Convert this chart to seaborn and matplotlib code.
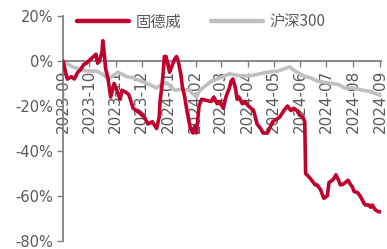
import matplotlib
matplotlib.use("Agg")
import matplotlib.pyplot as plt
import matplotlib.dates as mdates
import seaborn as sns
import pandas as pd
from matplotlib.lines import Line2D

red_name = "固德威"
gray_name = "沪深300"

red_dates = [
    "2023-09-01", "2023-09-04", "2023-09-06", "2023-09-11", "2023-09-14", "2023-09-18",
    "2023-09-21", "2023-09-25", "2023-09-28", "2023-10-09", "2023-10-11", "2023-10-13",
    "2023-10-16", "2023-10-17", "2023-10-19", "2023-10-20", "2023-10-23", "2023-10-26",
    "2023-10-30", "2023-11-02", "2023-11-06", "2023-11-08", "2023-11-13", "2023-11-16",
    "2023-11-21", "2023-11-28", "2023-12-04", "2023-12-08", "2023-12-13", "2023-12-18",
    "2023-12-21", "2023-12-22", "2023-12-25", "2023-12-27", "2023-12-29", "2024-01-02",
    "2024-01-04", "2024-01-08", "2024-01-10", "2024-01-12", "2024-01-15", "2024-01-17",
    "2024-01-19", "2024-01-22", "2024-01-24", "2024-01-26", "2024-01-29", "2024-01-31",
    "2024-02-02", "2024-02-05", "2024-02-08", "2024-02-19", "2024-02-22", "2024-02-26",
    "2024-02-29", "2024-03-04", "2024-03-07", "2024-03-11", "2024-03-13", "2024-03-15",
    "2024-03-18", "2024-03-20", "2024-03-22", "2024-03-26", "2024-03-29", "2024-04-02",
    "2024-04-08", "2024-04-10", "2024-04-12", "2024-04-16", "2024-04-19", "2024-04-24",
    "2024-04-30", "2024-05-08", "2024-05-13", "2024-05-17", "2024-05-21", "2024-05-24",
    "2024-05-28", "2024-05-31", "2024-06-04", "2024-06-06", "2024-06-07", "2024-06-12",
    "2024-06-14", "2024-06-18", "2024-06-20", "2024-06-24", "2024-06-26", "2024-06-28",
    "2024-07-02", "2024-07-04", "2024-07-08", "2024-07-10", "2024-07-12", "2024-07-15",
    "2024-07-17", "2024-07-19", "2024-07-23", "2024-07-26", "2024-07-29", "2024-07-31",
    "2024-08-02", "2024-08-06", "2024-08-09", "2024-08-13", "2024-08-15", "2024-08-19",
    "2024-08-21", "2024-08-23", "2024-08-26", "2024-08-30", "2024-09-02",
]
red_values = [
    0, -5, -8, -7, -8, -5,
    -4, -1.5, -1, 3, -1, 0,
    4, 9, 2, -3, -8, -16,
    -10, -13, -17, -13, -14, -15,
    -21, -23, -25, -28, -27, -30,
    -25, -18, -8, 2, 2, -5,
    -3, 1, 2, 0, -6, -12,
    -15, -22, -26, -30, -32, -29,
    -32, -20, -17, -18, -16, -19,
    -18, -21, -16, -12, -9, -8,
    -12, -17, -16, -19, -18, -20,
    -22, -25, -28, -30, -32, -32,
    -27, -25, -22, -20, -22, -21,
    -22, -24, -25, -27, -50, -52,
    -53, -55, -55, -57, -59, -61,
    -60, -54, -53, -52, -50.6, -53,
    -55, -55, -54, -53, -55, -56,
    -58, -58.5, -60, -63, -64, -64,
    -65, -64, -66, -67, -67,
]

gray_dates = [
    "2023-09-01", "2023-09-07", "2023-09-12", "2023-09-20", "2023-09-28", "2023-10-10",
    "2023-10-17", "2023-10-23", "2023-10-27", "2023-11-03", "2023-11-09", "2023-11-14",
    "2023-11-21", "2023-12-01", "2023-12-10", "2023-12-18", "2023-12-25", "2023-12-29",
    "2024-01-08", "2024-01-17", "2024-01-25", "2024-01-30", "2024-02-02", "2024-02-06",
    "2024-02-19", "2024-02-26", "2024-03-11", "2024-03-22", "2024-04-03", "2024-04-12",
    "2024-04-23", "2024-05-06", "2024-05-13", "2024-05-20", "2024-05-24", "2024-06-04",
    "2024-06-13", "2024-06-21", "2024-06-28", "2024-07-08", "2024-07-15", "2024-07-22",
    "2024-07-31", "2024-08-12", "2024-08-20", "2024-08-30", "2024-09-02",
]
gray_values = [
    0, -1.5, -2.6, -3.5, -4.4, -4.5,
    -6, -8, -7, -5, -6, -7,
    -7.5, -9, -10.5, -12, -10, -9.5,
    -13, -12.5, -13, -15, -16, -13,
    -9, -8, -5.7, -6.5, -6.6, -6,
    -5, -4.5, -3.5, -2.6, -4, -6.6,
    -7.5, -9, -9.5, -10, -10.5, -12,
    -12, -13, -13.5, -15, -15,
]

yticks = [-80, -60, -40, -20, 0, 20]

df = pd.concat([
    pd.DataFrame({"date": pd.to_datetime(red_dates), "value": red_values, "series": red_name}),
    pd.DataFrame({"date": pd.to_datetime(gray_dates), "value": gray_values, "series": gray_name}),
], ignore_index=True)

sns.set_theme(style="white")
plt.rcParams["font.family"] = ["DejaVu Sans"]

fig = plt.figure(figsize=(3.87, 2.49), dpi=100)
ax = fig.add_axes([63 / 387, 1 - 241 / 249, (381 - 63) / 387, (241 - 16) / 249])

red_c = "#C0002D"
gray_c = "#BFBFBF"
sns.lineplot(data=df, x="date", y="value", hue="series", hue_order=[red_name, gray_name],
             palette={red_name: red_c, gray_name: gray_c}, linewidth=2.6,
             estimator=None, ax=ax, legend=False)
for ln in ax.get_lines():
    if ln.get_color() in (red_c, red_c.lower()):
        ln.set_zorder(3)

ax.set_ylim(-80, 20)
ax.set_xlim(pd.Timestamp("2023-09-01"), pd.Timestamp("2024-09-02"))
ax.set_yticks(yticks)
ax.set_yticklabels([f"{v}%" for v in yticks])
ax.xaxis.set_major_locator(mdates.MonthLocator())
ax.xaxis.set_major_formatter(mdates.DateFormatter("%Y-%m"))
ax.set_xlabel("")
ax.set_ylabel("")

spine_c = "#808080"
text_c = "#595959"
for s in ["top", "right"]:
    ax.spines[s].set_visible(False)
ax.spines["left"].set_color(spine_c)
ax.spines["left"].set_linewidth(1.3)
ax.spines["bottom"].set_position(("data", 0))
ax.spines["bottom"].set_color(spine_c)
ax.spines["bottom"].set_linewidth(1.3)
ax.spines["bottom"].set_zorder(2.5)

ax.tick_params(axis="y", direction="out", length=4, width=1, color=spine_c,
               labelsize=10.5, labelcolor=text_c, pad=3, left=True)
ax.tick_params(axis="x", direction="out", length=4, width=1, color=spine_c,
               labelsize=11, labelcolor=text_c, pad=2, labelrotation=90, bottom=True)
for lab in ax.get_xticklabels():
    lab.set_verticalalignment("top")
    lab.set_horizontalalignment("center")

handles = [Line2D([], [], color=red_c, linewidth=3.2),
           Line2D([], [], color=gray_c, linewidth=3.2)]
leg = fig.legend(handles, [red_name, gray_name], loc="center left",
                 bbox_to_anchor=(77 / 387, 1 - 22 / 249), ncol=2, frameon=False,
                 handlelength=3.4, handletextpad=0.45, columnspacing=1.9,
                 borderpad=0, borderaxespad=0,
                 prop={"family": ["Noto Sans CJK SC", "DejaVu Sans"], "size": 11})
for t in leg.get_texts():
    t.set_color(text_c)

fig.savefig("out.png", dpi=100)
